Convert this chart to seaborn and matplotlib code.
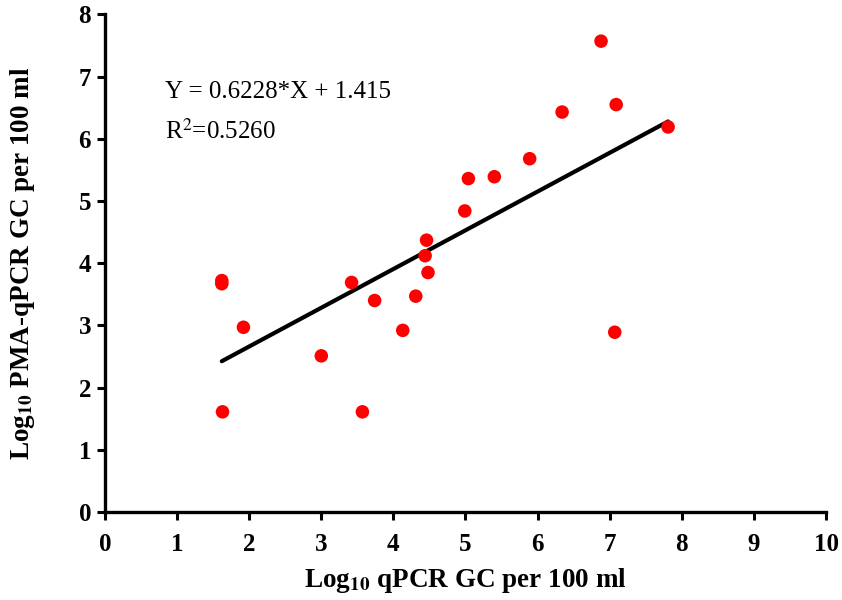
import numpy as np
import pandas as pd
import matplotlib
matplotlib.use("Agg")
import matplotlib.pyplot as plt
import seaborn as sns

# Paired log10 concentrations (gene copies per 100 ml)
qpcr = [1.62, 1.62, 1.63, 1.92, 3.00, 3.42, 3.57, 3.74, 4.13, 4.31, 4.44,
        4.46, 4.48, 4.99, 5.04, 5.40, 5.89, 6.34, 6.88, 7.07, 7.09, 7.81]
pma_qpcr = [3.72, 3.67, 1.61, 2.97, 2.51, 3.69, 1.61, 3.40, 2.92, 3.47, 4.12,
            4.37, 3.85, 4.84, 5.36, 5.39, 5.68, 6.43, 7.57, 2.89, 6.55, 6.19]

# Linear regression reported for the data
slope = 0.6228
intercept = 1.415
r_squared = 0.5260

x_ticks = list(range(0, 11))
y_ticks = list(range(0, 9))

sns.set_theme(style="ticks")
plt.rcParams["font.family"] = ["Liberation Serif", "DejaVu Serif"]
plt.rcParams["mathtext.fontset"] = "stix"
plt.rcParams["text.color"] = "black"
plt.rcParams["axes.labelcolor"] = "black"
plt.rcParams["xtick.color"] = "black"
plt.rcParams["ytick.color"] = "black"

df = pd.DataFrame({"qpcr": qpcr, "pma": pma_qpcr})
x_fit = np.array([min(qpcr), max(qpcr)])
fit = pd.DataFrame({"x": x_fit, "y": slope * x_fit + intercept})

fig = plt.figure(figsize=(8.42, 6.0), dpi=100)
ax = fig.add_axes([0.1247, 0.1467, 0.8563, 0.8293])

sns.lineplot(data=fit, x="x", y="y", color="black", linewidth=3.0, ax=ax,
             zorder=2)
sns.scatterplot(data=df, x="qpcr", y="pma", color="#ff0000", s=95,
                edgecolor="none", linewidth=0, ax=ax, zorder=3)

ax.set_xlim(0, 10)
ax.set_ylim(0, 8)
ax.set_xticks(x_ticks)
ax.set_yticks(y_ticks)
ax.set_xticklabels([str(t) for t in x_ticks], fontsize=18, fontweight="bold")
ax.set_yticklabels([str(t) for t in y_ticks], fontsize=18, fontweight="bold")

ax.set_xlabel(r"Log$_{\mathbf{10}}$ qPCR GC per 100 ml", fontsize=19.5,
              fontweight="bold", labelpad=7)
ax.set_ylabel(r"Log$_{\mathbf{10}}$ PMA-qPCR GC per 100 ml", fontsize=19.5,
              fontweight="bold")
ax.yaxis.set_label_coords(-0.094, 0.5)

sns.despine(ax=ax)
for side in ("left", "bottom"):
    ax.spines[side].set_linewidth(2.4)
    ax.spines[side].set_color("black")
ax.tick_params(axis="both", which="major", direction="out", length=6,
               width=2.2, color="black", labelcolor="black")
ax.tick_params(axis="x", pad=9)
ax.tick_params(axis="y", pad=4)

ax.text(0.83, 6.65, f"Y = {slope}*X + {intercept}", fontsize=18,
        color="black", va="baseline", ha="left")
ax.text(0.83, 6.0, f"R$^2$={r_squared:.4f}", fontsize=18,
        color="black", va="baseline", ha="left")

fig.savefig("out.png", dpi=100, facecolor="white")
